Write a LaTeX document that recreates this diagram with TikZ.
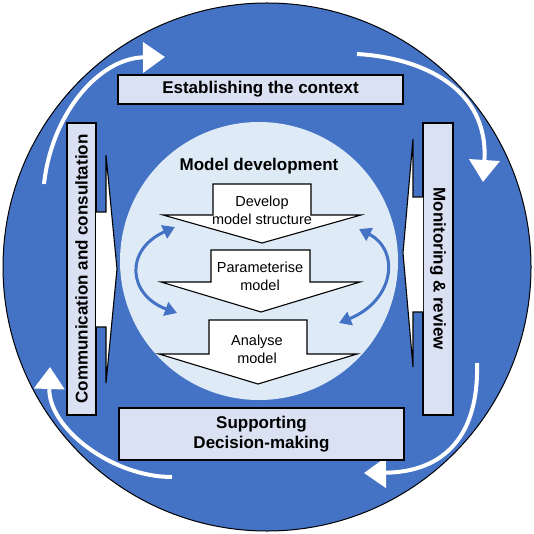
\documentclass[tikz,border=0pt]{standalone}
\usepackage{fontspec}
\setmainfont{Liberation Sans}
\usetikzlibrary{arrows.meta}
\definecolor{ringblue}{HTML}{4472C4}
\definecolor{innerblue}{HTML}{DEEBF7}
\definecolor{boxfill}{HTML}{DAE1F3}
\begin{document}
\begin{tikzpicture}[x=1pt,y=-1pt,
  boxnode/.style={draw=black, fill=boxfill, line width=1.2pt, inner sep=0pt, align=center,
    font=\bfseries\fontsize{17}{20}\selectfont},
  chev/.style={draw=black, fill=white, line width=1.1pt, line join=miter},
  chevtext/.style={align=center, inner sep=0pt, font=\fontsize{14.5}{18}\selectfont},
  cyclearrow/.style={white, line width=4pt, -{Triangle[length=22pt,width=30pt]}},
  loopback/.style={ringblue, line width=3pt, {Triangle[length=12pt,width=14pt]}-{Triangle[length=12pt,width=14pt]}}
]
\useasboundingbox (0,0) rectangle (533,534);
\fill[white] (0,0) rectangle (533,534);
% outer ring
\filldraw[fill=ringblue, draw=black, line width=1pt] (267,267) circle[radius=264pt];
% inner circle
\fill[innerblue] (259,261) circle[radius=139pt];

% white cycle arrows
\coordinate (a1s) at (44,184);  \coordinate (a1e) at (165,57);
\coordinate (a2s) at (357,54);  \coordinate (a2e) at (483,182);
\coordinate (a3s) at (477,363); \coordinate (a3e) at (364,473);
\coordinate (a4s) at (172,477); \coordinate (a4e) at (50,367);
\draw[cyclearrow] (a1s) .. controls (52,112) and (100,58) .. (a1e);
\draw[cyclearrow] (a2s) .. controls (425,58) and (489,90) .. (a2e);
\draw[cyclearrow] (a3s) .. controls (479,435) and (445,472) .. (a3e);
\draw[cyclearrow] (a4s) .. controls (112,477) and (48,428) .. (a4e);

% boxes
\node[boxnode, minimum width=285pt, minimum height=29pt] (ctx) at (260.5,89.5) {Establishing the context};
\node[boxnode, minimum width=285pt, minimum height=52pt] (sup) at (261.5,434) {Supporting\\Decision-making};
\node[boxnode, rotate=90, minimum width=292pt, minimum height=29pt] (comm) at (81.5,269) {Communication and consultation};
\node[boxnode, rotate=-90, minimum width=292pt, minimum height=30pt] (mon) at (438,269) {Monitoring \& review};

% side arrows
\filldraw[chev] (96,212) -- (106,212) -- (106,155) -- (117,269) -- (106,383) -- (106,327) -- (96,327);
\filldraw[chev] (423,197) -- (413,197) -- (413,139) -- (403,253) -- (413,367) -- (413,312) -- (423,312);

% inner chevrons
\filldraw[chev] (213,184) -- (311,184) -- (311,215) -- (361,215) -- (262,243) -- (163,215) -- (213,215) -- cycle;
\filldraw[chev] (211,250) -- (310,250) -- (310,282) -- (360,282) -- (261,312) -- (161,282) -- (211,282) -- cycle;
\filldraw[chev] (209,320) -- (307,320) -- (307,354) -- (357,354) -- (258,384) -- (159,354) -- (209,354) -- cycle;

\node[inner sep=0pt, font=\bfseries\fontsize{17}{20}\selectfont] (md) at (259,166) {Model development};
\node[chevtext] (dev) at (262,210) {Develop\\model structure};
\node[chevtext] (par) at (260,276) {Parameterise\\model};
\node[chevtext] (ana) at (257,349) {Analyse\\model};

% blue feedback arrows
\coordinate (l1) at (175,227); \coordinate (l2) at (177,313);
\coordinate (r1) at (359,229); \coordinate (r2) at (339,323);
\draw[loopback] (l1) .. controls (124,250) and (128,295) .. (l2);
\draw[loopback] (r1) .. controls (400,250) and (395,300) .. (r2);
\end{tikzpicture}
\end{document}
